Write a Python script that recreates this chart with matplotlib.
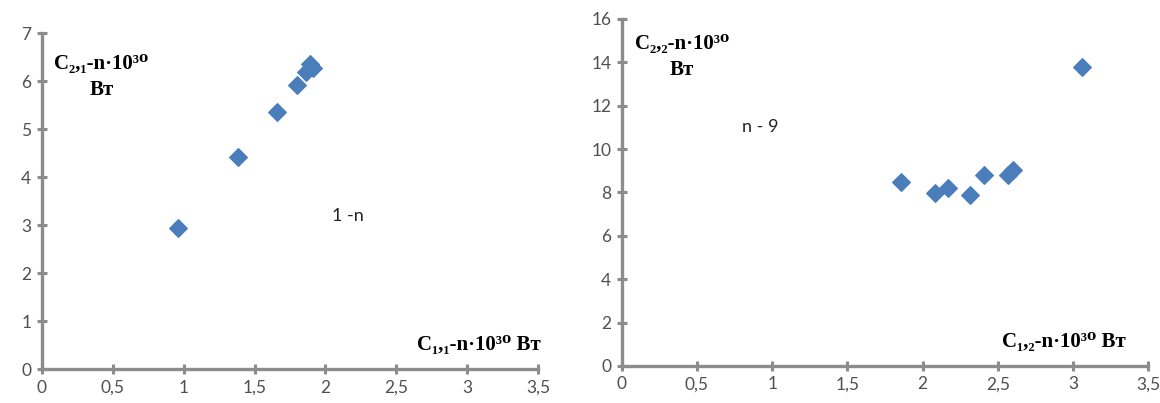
import matplotlib
matplotlib.use('Agg')
from matplotlib import pyplot as plt
from matplotlib.ticker import FuncFormatter

# left panel: C1,1 vs C2,1
x_left = [0.96, 1.38, 1.655, 1.80, 1.865, 1.89, 1.91]
y_left = [2.94, 4.42, 5.35, 5.91, 6.18, 6.35, 6.27]

# right panel: C1,2 vs C2,2
x_right = [1.855, 2.08, 2.165, 2.315, 2.405, 2.565, 2.60, 3.06]
y_right = [8.47, 7.99, 8.19, 7.88, 8.80, 8.80, 9.05, 13.80]

x_ticks = [0, 0.5, 1, 1.5, 2, 2.5, 3, 3.5]
y_ticks_left = [0, 1, 2, 3, 4, 5, 6, 7]
y_ticks_right = [0, 2, 4, 6, 8, 10, 12, 14, 16]

MARKER_COLOR = '#4a7ebb'
AXIS_COLOR = '#8c8c8c'
SERIF = ['Liberation Serif', 'DejaVu Serif']


def comma(v, pos):
    s = ('%g' % v)
    return s.replace('.', ',')


def style_axes(ax, yticks, ymax):
    for side in ['top', 'right']:
        ax.spines[side].set_visible(False)
    for side in ['left', 'bottom']:
        ax.spines[side].set_color(AXIS_COLOR)
        ax.spines[side].set_linewidth(2.4)
    ax.set_xlim(0, 3.5)
    ax.set_ylim(0, ymax)
    ax.set_xticks(x_ticks)
    ax.set_yticks(yticks)
    ax.xaxis.set_major_formatter(FuncFormatter(comma))
    ax.yaxis.set_major_formatter(FuncFormatter(comma))
    ax.tick_params(direction='inout', length=7, width=2.2, color=AXIS_COLOR,
                   labelsize=12.5, labelcolor='#505050', pad=4)
    for lab in ax.get_xticklabels() + ax.get_yticklabels():
        lab.set_family('Lato')


fig = plt.figure(figsize=(11.6, 4.03), dpi=100)
ax1 = fig.add_axes([0.036, 0.084, 0.428, 0.834])
ax2 = fig.add_axes([0.536, 0.092, 0.454, 0.861])

ax1.scatter(x_left, y_left, marker='D', s=80, color=MARKER_COLOR, zorder=3, clip_on=False)
style_axes(ax1, y_ticks_left, 7)
ax1.text(0.42, 6.08, 'C\u2082,\u2081-n\u00b710\u00b3\u2070\n\u0412\u0442', family=SERIF,
         fontweight='bold', fontsize=15, ha='center', va='center', linespacing=1.4)
ax1.text(2.16, 3.2, '1 -n', family='Lato', fontsize=13, ha='center', va='center', color='#222222')
ax1.text(3.52, 0.5, 'C\u2081,\u2081-n\u00b710\u00b3\u2070 \u0412\u0442', family=SERIF,
         fontweight='bold', fontsize=15, ha='right', va='center')

ax2.scatter(x_right, y_right, marker='D', s=80, color=MARKER_COLOR, zorder=3, clip_on=False)
style_axes(ax2, y_ticks_right, 16)
ax2.text(0.4, 14.25, 'C\u2082,\u2082-n\u00b710\u00b3\u2070\n\u0412\u0442', family=SERIF,
         fontweight='bold', fontsize=15, ha='center', va='center', linespacing=1.4)
ax2.text(0.92, 11.0, 'n - 9', family='Lato', fontsize=13, ha='center', va='center', color='#222222')
ax2.text(3.35, 1.1, 'C\u2081,\u2082-n\u00b710\u00b3\u2070 \u0412\u0442', family=SERIF,
         fontweight='bold', fontsize=15, ha='right', va='center')

fig.savefig('out.png', dpi=100)
